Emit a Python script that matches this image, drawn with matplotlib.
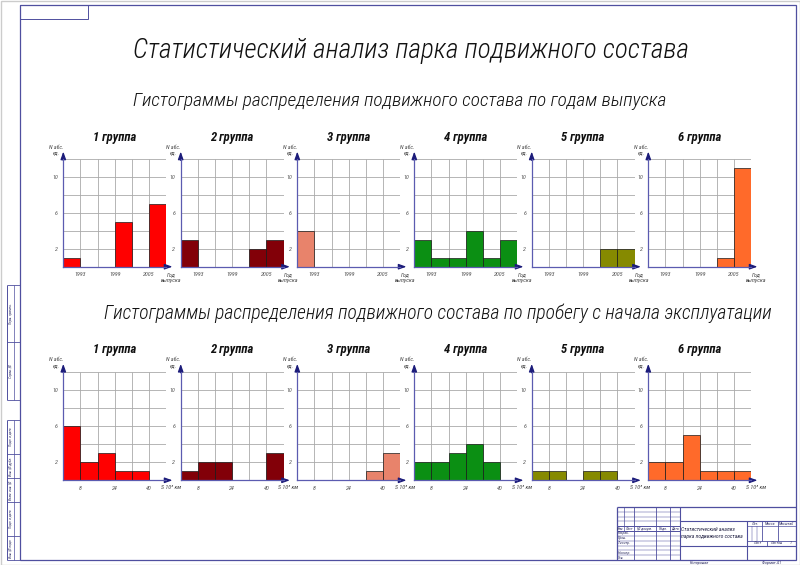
import numpy as np
import matplotlib
matplotlib.use('Agg')
import matplotlib.pyplot as plt
from matplotlib import font_manager as fm
from matplotlib.transforms import offset_copy
from matplotlib.patches import Rectangle

# ---------------- data ----------------
groups = ['1 группа', '2 группа', '3 группа', '4 группа', '5 группа', '6 группа']
group_colors = ['#ff0000', '#820008', '#e8836b', '#0b8f13', '#868a00', '#ff6a2a']

year_bins = [1990, 1993, 1996, 1999, 2002, 2005]
year_bin_width = 3
year_ticks = [1993, 1999, 2005]
year_counts_g1 = [1, 0, 0, 5, 0, 7]
year_counts_g2 = [3, 0, 0, 0, 2, 3]
year_counts_g3 = [4, 0, 0, 0, 0, 0]
year_counts_g4 = [3, 1, 1, 4, 1, 3]
year_counts_g5 = [0, 0, 0, 0, 2, 2]
year_counts_g6 = [0, 0, 0, 0, 1, 11]

km_bins = [0, 8, 16, 24, 32, 40]
km_bin_width = 8
km_ticks = [8, 24, 40]
km_counts_g1 = [6, 2, 3, 1, 1, 0]
km_counts_g2 = [1, 2, 2, 0, 0, 3]
km_counts_g3 = [0, 0, 0, 0, 1, 3]
km_counts_g4 = [2, 2, 3, 4, 2, 0]
km_counts_g5 = [1, 1, 0, 1, 1, 0]
km_counts_g6 = [2, 2, 5, 1, 1, 1]

count_ticks = [2, 6, 10]
count_max = 12

title_main = 'Статистический анализ парка подвижного состава'
title_years = 'Гистограммы распределения подвижного состава по годам выпуска'
title_km = 'Гистограммы распределения подвижного состава по пробегу с начала эксплуатации'
ylabel = 'N абс.\nед.'
xlabel_years = 'Год\nвыпуска'
xlabel_km = 'S 10³ км'

# ---------------- fonts ----------------
avail = {f.name for f in fm.fontManager.ttflist}
FONT = next((c for c in ['Liberation Sans Narrow', 'Roboto Condensed', 'Open Sans Condensed',
                         'Liberation Sans', 'DejaVu Sans'] if c in avail), 'DejaVu Sans')
FAM = [FONT, 'DejaVu Sans']
plt.rcParams['font.family'] = FAM

W, H = 800, 565
fig = plt.figure(figsize=(W / 100, H / 100), dpi=100)
fig.patch.set_facecolor('white')

# background overlay axes in pixel coordinates (y downward)
bg = fig.add_axes([0, 0, 1, 1])
bg.set_xlim(0, W)
bg.set_ylim(H, 0)
bg.axis('off')
bg.set_zorder(0)

FRAME = '#4f4f9f'
GRID = '#a9a9a9'
AXC = '#5b5bb0'
ARW = '#1c1c7a'
TXT = '#111111'


def line(x0, y0, x1, y1, lw=0.6, c=FRAME):
    bg.plot([x0, x1], [y0, y1], color=c, lw=lw, solid_capstyle='butt')


def btext(x, y, s, fs=3.3, ha='center', rot=0, **kw):
    return bg.text(x, y, s, fontsize=fs, ha=ha, va='center', rotation=rot,
                   color='#333366', style='italic', **kw)


# outer sheet border
bg.add_patch(Rectangle((0.5, 0.5), W - 1, H - 1, fill=False, ec='#cccccc', lw=1.0))

# main frame
FL, FT, FR, FB = 20, 5, 795.6, 560
bg.add_patch(Rectangle((FL, FT), FR - FL, FB - FT, fill=False, ec=FRAME, lw=0.9))
# top-left small box
bg.add_patch(Rectangle((FL, FT), 67.5, 13.5, fill=False, ec=FRAME, lw=0.7))

# left strip
SX0, SX1 = 7.3, 14.0
lower = [420.3, 454.0, 478.1, 502.2, 535.9, 560.0]
upper = [284.6, 342.4, 400.3]
lower_lbl = ['Подп. и дата', 'Инв. № дубл.', 'Взам. инв. №', 'Подп. и дата', 'Инв. № подл.']
upper_lbl = ['Перв. примен.', 'Справ. №']
for divs, lbls in ((lower, lower_lbl), (upper, upper_lbl)):
    line(SX0, divs[0], SX0, divs[-1], 0.7)
    line(SX1, divs[0], SX1, divs[-1], 0.5)
    for yv in divs:
        line(SX0, yv, FL, yv, 0.6)
    for i, lb in enumerate(lbls):
        btext((SX0 + SX1) / 2, (divs[i] + divs[i + 1]) / 2, lb, fs=2.6, rot=90)

# title block (GOST form, scaled)
s = 0.964
X0, Y0 = FR - 185 * s, FB - 55 * s
def X(mm): return X0 + mm * s
def Y(mm): return Y0 + mm * s
line(X(0), Y(0), X(185), Y(0), 0.9)
line(X(0), Y(0), X(0), Y(55), 0.9)
line(X(65), Y(0), X(65), Y(55), 0.8)
line(X(7), Y(0), X(7), Y(25), 0.5)
for mm in (17, 40, 55):
    line(X(mm), Y(0), X(mm), Y(55), 0.6)
for k in range(1, 11):
    line(X(0), Y(5 * k), X(65), Y(5 * k), 0.7 if k in (4, 5) else 0.35)
line(X(65), Y(15), X(185), Y(15), 0.8)
line(X(65), Y(40), X(185), Y(40), 0.8)
line(X(135), Y(15), X(135), Y(55), 0.8)
line(X(135), Y(20), X(185), Y(20), 0.5)
line(X(135), Y(35), X(185), Y(35), 0.6)
line(X(150), Y(15), X(150), Y(35), 0.6)
line(X(167), Y(15), X(167), Y(35), 0.6)
line(X(140), Y(20), X(140), Y(35), 0.35)
line(X(145), Y(20), X(145), Y(35), 0.35)
line(X(155), Y(35), X(155), Y(40), 0.6)

hdr = [('Изм.', 0, 7), ('Лист', 7, 17), ('№ докум.', 17, 40), ('Подп.', 40, 55), ('Дата', 55, 65)]
for lb, a, b in hdr:
    btext(X((a + b) / 2), Y(22.5), lb, fs=2.8)
for lb, k in (('Разраб.', 5), ('Пров.', 6), ('Т.контр.', 7), ('Н.контр.', 9), ('Утв.', 10)):
    btext(X(0.6), Y(5 * k + 2.5), lb, fs=2.8, ha='left')
btext(X(142.5), Y(17.5), 'Лит.', fs=3.0)
btext(X(158.5), Y(17.5), 'Масса', fs=3.0)
btext(X(176), Y(17.5), 'Масштаб', fs=3.0)
btext(X(145), Y(37.5), 'Лист', fs=3.0)
btext(X(165), Y(37.5), 'Листов', fs=3.0)
btext(X(180), Y(37.5), '1', fs=3.0)
name_t = bg.text(X(66), Y(27.5), 'Статистический анализ\nпарка подвижного состава',
                 fontsize=5, ha='left', va='center', style='italic', color='#222244', linespacing=1.5)
btext(700, 563, 'Копировал', fs=3.2)
btext(772, 563, 'Формат А1', fs=3.2)

# titles
t_main = bg.text(411, 50, title_main, fontsize=20, ha='center', va='center', style='italic',
                 weight='light', color=TXT)
t_years = bg.text(400, 101, title_years, fontsize=14, ha='center', va='center', style='italic',
                  weight='light', color=TXT)
t_km = bg.text(437.5, 313, title_km, fontsize=14, ha='center', va='center', style='italic',
               weight='light', color=TXT)

# ---------------- histograms ----------------
lefts = [63.3, 180.7, 297.3, 414.3, 531.7, 648.3]
cw = 102.8
top_row = (159.3, 107.4)
bot_row = (371.7, 108.6)

year_counts = [year_counts_g1, year_counts_g2, year_counts_g3, year_counts_g4, year_counts_g5, year_counts_g6]
km_counts = [km_counts_g1, km_counts_g2, km_counts_g3, km_counts_g4, km_counts_g5, km_counts_g6]

group_titles = []


def off(ax, dx, dy):
    return offset_copy(ax.transAxes, fig=fig, x=dx, y=dy, units='dots')


def draw_hist(l, row, bins, width, counts, ticks, color, title, xlabel, xlab_dy):
    t, h = row
    ax = fig.add_axes([l / W, 1 - (t + h) / H, cw / W, h / H])
    ax.set_zorder(2)
    ax.patch.set_alpha(0)
    xmin, xmax = bins[0], bins[-1] + width
    ax.bar(bins, counts, width=width, align='edge', color=color,
           edgecolor='#1a1a1a', linewidth=0.5, zorder=3)
    ax.set_xlim(xmin, xmax)
    ax.set_ylim(0, count_max)
    ax.vlines(list(bins[1:]) + [xmax], 0, count_max, colors=GRID, lw=0.6, zorder=1)
    ax.hlines(np.arange(2, count_max + 1, 2), xmin, xmax, colors=GRID, lw=0.6, zorder=1)
    for sp in ('top', 'right'):
        ax.spines[sp].set_visible(False)
    for sp in ('left', 'bottom'):
        ax.spines[sp].set_color(AXC)
        ax.spines[sp].set_linewidth(0.9)
        ax.spines[sp].set_zorder(4)
    ax.set_xticks(ticks)
    ax.set_yticks(count_ticks)
    ax.tick_params(length=0, labelsize=4.3, labelcolor='#555555', pad=4)
    for lb in ax.get_xticklabels() + ax.get_yticklabels():
        lb.set_fontstyle('italic')
    ap = dict(arrowstyle='-|>,head_length=0.45,head_width=0.16', color=ARW, lw=0.9,
              shrinkA=0, shrinkB=0, mutation_scale=10)
    ax.annotate('', xy=(0, 1.072), xytext=(0, 0.99), xycoords='axes fraction',
                arrowprops=ap, annotation_clip=False)
    ax.annotate('', xy=(1.062, 0), xytext=(0.99, 0), xycoords='axes fraction',
                arrowprops=ap, annotation_clip=False)
    ax.text(0, 1, ylabel, transform=off(ax, -7, 9), ha='center', va='center', fontsize=4.2,
            style='italic', color='#444444', linespacing=1.1)
    ax.text(1, 0, xlabel, transform=off(ax, 5, xlab_dy), ha='center', va='center', fontsize=4.3,
            style='italic', color='#444444', linespacing=1.1)
    gt = ax.text(0.5, 1, title, transform=off(ax, 0, 22), ha='center', va='center', fontsize=10,
                 style='italic', weight='bold', color=TXT)
    group_titles.append(gt)
    return ax


for i in range(6):
    draw_hist(lefts[i], top_row, year_bins, year_bin_width, year_counts[i], year_ticks,
              group_colors[i], groups[i], xlabel_years, -11)
    draw_hist(lefts[i], bot_row, km_bins, km_bin_width, km_counts[i], km_ticks,
              group_colors[i], groups[i], xlabel_km, -7)

# fit title widths to the drawing
fig.canvas.draw()
r = fig.canvas.get_renderer()
for txt, target in ((t_main, 553), (t_years, 536), (t_km, 671), (name_t, 63)):
    w = txt.get_window_extent(r).width
    txt.set_fontsize(txt.get_fontsize() * target / w)
for gt in group_titles:
    w = gt.get_window_extent(r).width
    gt.set_fontsize(gt.get_fontsize() * 43 / w)

fig.savefig('out.png', dpi=100, facecolor='white')
